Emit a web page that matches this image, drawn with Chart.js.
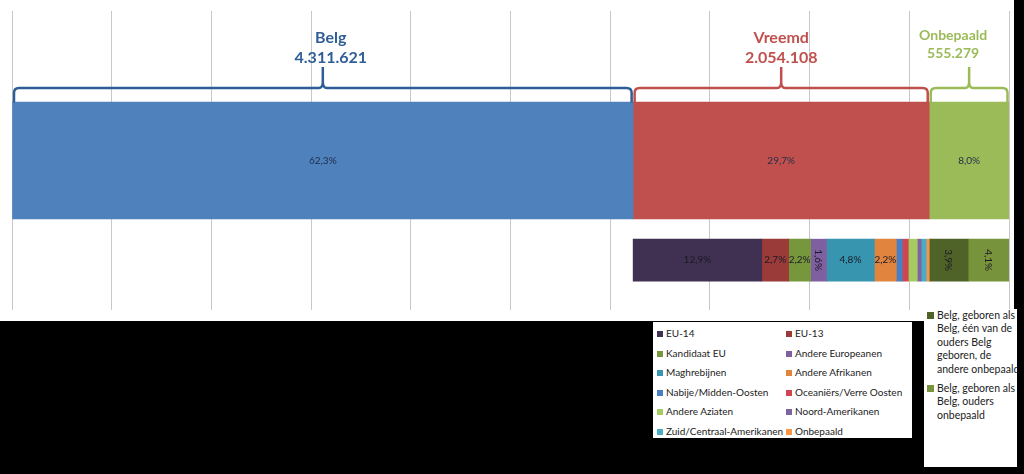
<!DOCTYPE html>
<html>
<head>
<meta charset="utf-8">
<script src="https://cdn.jsdelivr.net/npm/chart.js@4"></script>
<style>
    body { margin: 0; background: #000; width: 1024px; height: 474px; overflow: hidden; font-family: Lato, "Liberation Sans", sans-serif; }
    #wrap { position: absolute; left: 0; top: 0; width: 1014px; height: 321px; background: #fff; }
    .legend-box { position: absolute; background: #fff; color: #222; font-size: 10px; }
    .legend-item { position: absolute; white-space: nowrap; line-height: 16px; }
    .legend-item .swatch { display: inline-block; width: 6px; height: 6px; margin-right: 3px; vertical-align: 0px; }
    #legend-belg { font-size: 10.5px; }
    #legend-belg .legend-item { white-space: normal; line-height: 13.4px; width: 84px; padding-left: 13px; }
    #legend-belg .swatch { position: absolute; left: 3px; top: 3px; width: 7px; height: 7px; }
</style>
</head>
<body>
<div id="wrap"><canvas id="chart" width="1014" height="321"></canvas></div>
<div id="legend-foreign" class="legend-box" style="left:653px;top:322px;width:259px;height:116px"></div>
<div id="legend-belg" class="legend-box" style="left:924px;top:309px;width:93px;height:158px;overflow:hidden"></div>
<script>
// --- Data ---
const rowLabels = ['', 'Totaal', 'Detail'];

const topLabels = ['Belg', 'Vreemd', 'Onbepaald'];
const topCounts = [4311621, 2054108, 555279];
const topShares = [62.3, 29.7, 8.0];
const topColors = ['#4F81BD', '#C0504D', '#9BBB59'];
const braceColors = ['#2F5E96', '#C0504D', '#9BBB59'];

const foreignGroups = [
    'EU-14', 'EU-13', 'Kandidaat EU', 'Andere Europeanen', 'Maghrebijnen', 'Andere Afrikanen',
    'Nabije/Midden-Oosten', 'Oceaniërs/Verre Oosten', 'Andere Aziaten', 'Noord-Amerikanen',
    'Zuid/Centraal-Amerikanen', 'Onbepaald'
];
const foreignShares = [12.9, 2.7, 2.2, 1.6, 4.8, 2.2, 0.6, 0.6, 0.9, 0.4, 0.5, 0.3];
const foreignColors = [
    '#403152', '#9A3B39', '#77973D', '#7E5FA0', '#3795B0', '#E0843E',
    '#4A7EC4', '#CF4650', '#A6CB62', '#8064A2', '#4BACC6', '#F79646'
];

const belgGroups = [
    'Belg, geboren als Belg, één van de ouders Belg geboren, de andere onbepaald',
    'Belg, geboren als Belg, ouders onbepaald'
];
const belgShares = [3.9, 4.1];
const belgColors = ['#4F6228', '#77933C'];

// --- Helpers ---
const fmtPct = v => v.toFixed(1).replace('.', ',') + '%';
const fmtCount = n => String(n).replace(/\B(?=(\d{3})+(?!\d))/g, '.');

// --- Datasets ---
const datasets = [];
topLabels.forEach((label, i) => {
    datasets.push({
        label: label,
        data: [null, topShares[i], null],
        backgroundColor: topColors[i],
        barThickness: 117,
        group: 'top',
        showLabel: true,
        count: topCounts[i],
        braceColor: braceColors[i]
    });
});
// invisible offset so the detail row starts under "Vreemd"
datasets.push({
    label: 'offset',
    data: [null, null, topShares[0]],
    backgroundColor: 'rgba(0,0,0,0)',
    barThickness: 42,
    group: 'offset'
});
foreignGroups.forEach((label, i) => {
    datasets.push({
        label: label,
        data: [null, null, foreignShares[i]],
        backgroundColor: foreignColors[i],
        barThickness: 42,
        group: 'detail',
        showLabel: foreignShares[i] >= 1.5,
        rotateLabel: foreignShares[i] < 2
    });
});
belgGroups.forEach((label, i) => {
    datasets.push({
        label: label,
        data: [null, null, belgShares[i]],
        backgroundColor: belgColors[i],
        barThickness: 42,
        group: 'detail',
        showLabel: true,
        rotateLabel: true
    });
});

// --- Plugin: value labels inside bars ---
const barLabels = {
    id: 'barLabels',
    afterDatasetsDraw(chart) {
        const ctx = chart.ctx;
        chart.data.datasets.forEach((ds, di) => {
            if (!ds.showLabel) return;
            const meta = chart.getDatasetMeta(di);
            meta.data.forEach((el, idx) => {
                const v = ds.data[idx];
                if (v == null) return;
                const p = el.getProps(['x', 'base', 'y'], true);
                const cx = (p.x + p.base) / 2;
                ctx.save();
                ctx.font = '10px Lato';
                ctx.fillStyle = ds.group === 'top' ? '#1f2d4a' : '#1a1a24';
                ctx.textAlign = 'center';
                ctx.textBaseline = 'middle';
                ctx.translate(cx, p.y);
                if (ds.rotateLabel) ctx.rotate(Math.PI / 2);
                ctx.fillText(fmtPct(v), 0, 0);
                ctx.restore();
            });
        });
    }
};

// --- Plugin: braces + totals above the top row ---
const braces = {
    id: 'braces',
    afterDatasetsDraw(chart) {
        const ctx = chart.ctx;
        const textShift = { 'Belg': 8, 'Vreemd': 0, 'Onbepaald': -16 };
        chart.data.datasets.forEach((ds, di) => {
            if (ds.group !== 'top') return;
            const el = chart.getDatasetMeta(di).data[1];
            const p = el.getProps(['x', 'base', 'y', 'height'], true);
            const x1 = p.base + 1.5, x2 = p.x - 1.5;
            const top = p.y - p.height / 2;
            const yBot = top + 0.5, yH = top - 14, yTop = top - 35;
            const cx = (x1 + x2) / 2, r = 5;

            ctx.save();
            ctx.strokeStyle = ds.braceColor;
            ctx.lineWidth = 2.5;
            ctx.lineJoin = 'round';
            ctx.beginPath();
            ctx.moveTo(x1, yBot);
            ctx.lineTo(x1, yH + r);
            ctx.quadraticCurveTo(x1, yH, x1 + r, yH);
            ctx.lineTo(cx - 4, yH);
            ctx.quadraticCurveTo(cx, yH, cx, yH - 6);
            ctx.lineTo(cx, yTop);
            ctx.moveTo(cx, yH - 6);
            ctx.quadraticCurveTo(cx, yH, cx + 4, yH);
            ctx.lineTo(x2 - r, yH);
            ctx.quadraticCurveTo(x2, yH, x2, yH + r);
            ctx.lineTo(x2, yBot);
            ctx.stroke();

            const small = ds.label === 'Onbepaald';
            ctx.fillStyle = ds.braceColor;
            ctx.font = 'bold ' + (small ? 14 : 16) + 'px Lato';
            ctx.textAlign = 'center';
            ctx.textBaseline = 'alphabetic';
            const tx = cx + textShift[ds.label];
            ctx.fillText(ds.label, tx, top - (small ? 62 : 59));
            ctx.fillText(fmtCount(ds.count), tx, top - (small ? 44 : 39));
            ctx.restore();
        });
    }
};

new Chart(document.getElementById('chart'), {
    type: 'bar',
    data: { labels: rowLabels, datasets: datasets },
    options: {
        indexAxis: 'y',
        responsive: false,
        animation: false,
        devicePixelRatio: 1,
        layout: { padding: { left: 12, right: 5, top: 11, bottom: 11 } },
        plugins: {
            legend: { display: false },
            tooltip: { enabled: false }
        },
        scales: {
            x: {
                stacked: true,
                min: 0,
                max: 100,
                ticks: { display: false, stepSize: 10 },
                grid: { color: '#c8c8c8', drawTicks: false },
                border: { display: false }
            },
            y: { stacked: true, display: false }
        }
    },
    plugins: [barLabels, braces]
});

// --- Legends (HTML) ---
const legendForeign = document.getElementById('legend-foreign');
foreignGroups.forEach((label, i) => {
    const item = document.createElement('div');
    item.className = 'legend-item';
    item.style.left = (4 + (i % 2) * 129) + 'px';
    item.style.top = (3 + Math.floor(i / 2) * 19.6) + 'px';
    item.innerHTML = '<span class="swatch" style="background:' + foreignColors[i] + '"></span>' + label;
    legendForeign.appendChild(item);
});

const legendBelg = document.getElementById('legend-belg');
let y = 0;
belgGroups.forEach((label, i) => {
    const item = document.createElement('div');
    item.className = 'legend-item';
    item.style.left = '0px';
    item.style.top = y + 'px';
    item.innerHTML = '<span class="swatch" style="background:' + belgColors[i] + '"></span>' + label;
    legendBelg.appendChild(item);
    y += item.offsetHeight + 6;
});
</script>
</body>
</html>
